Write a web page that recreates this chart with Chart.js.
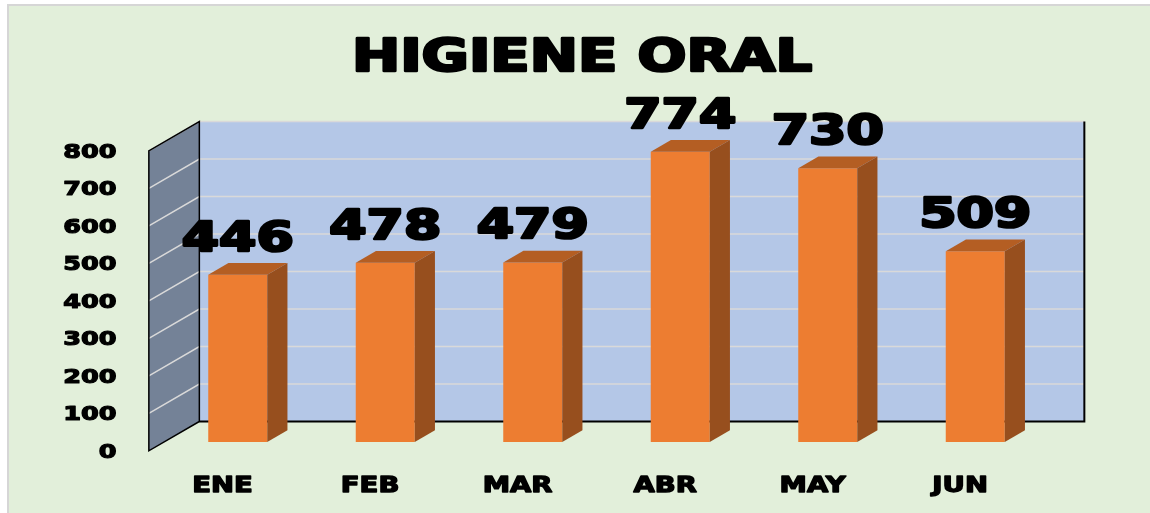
<!DOCTYPE html>
<html>
<head>
<meta charset="utf-8">
<title>Higiene oral</title>
<script src="https://cdn.jsdelivr.net/npm/chart.js@4.4.1/dist/chart.umd.min.js"></script>
<style>
  html, body { margin: 0; padding: 0; background: #fff; }
  #wrap { width: 1150px; height: 513px; position: relative; }
</style>
</head>
<body>
<div id="wrap"><canvas id="grafico"></canvas></div>
<script>
// Datos
const TITULO = 'HIGIENE ORAL';
const meses = ['ENE', 'FEB', 'MAR', 'ABR', 'MAY', 'JUN'];
const atenciones = [446, 478, 479, 774, 730, 509];
const yTicks = [0, 100, 200, 300, 400, 500, 600, 700, 800];

// Efecto 3D: profundidad del piso (frente -> fondo) y posicion de las barras
const PROF = { x: 50.5, y: -29.3 };
const BARRA_FRENTE = 0.3;
const BARRA_FONDO = 0.7;
const ESTIRAR = 1.31; // texto ancho tipo Arial Black
const FUENTE = '"DejaVu Sans", "Liberation Sans", sans-serif';

// punto del plano de las barras llevado a otra profundidad (0 = frente, 1 = fondo)
function pt(px, py, d) {
    return [px + (d - BARRA_FRENTE) * PROF.x, py + (d - BARRA_FRENTE) * PROF.y];
}

function poligono(ctx, pts) {
    ctx.beginPath();
    ctx.moveTo(pts[0][0], pts[0][1]);
    for (let i = 1; i < pts.length; i++) ctx.lineTo(pts[i][0], pts[i][1]);
    ctx.closePath();
}

// texto negro muy grueso: relleno + trazo del mismo color
function textoAncho(ctx, txt, x, y, size, align, grosor) {
    ctx.save();
    ctx.font = 'bold ' + size + 'px ' + FUENTE;
    ctx.fillStyle = '#000';
    ctx.strokeStyle = '#000';
    ctx.lineJoin = 'round';
    ctx.lineWidth = grosor;
    ctx.textAlign = align;
    ctx.textBaseline = 'alphabetic';
    ctx.translate(x, y);
    ctx.scale(ESTIRAR, 1);
    ctx.fillText(txt, 0, 0);
    ctx.strokeText(txt, 0, 0);
    ctx.restore();
}

const fondoPlugin = {
    id: 'fondo',
    beforeDraw(chart) {
        const ctx = chart.ctx;
        ctx.save();
        ctx.fillStyle = '#ffffff';
        ctx.fillRect(0, 0, chart.width, chart.height);
        ctx.fillStyle = '#D6D6D6';
        ctx.fillRect(7, 4, chart.width - 7, chart.height - 4);
        ctx.fillStyle = '#E2EFDA';
        ctx.fillRect(9, 6, chart.width - 9, chart.height - 6);
        ctx.restore();
    }
};

const paredesPlugin = {
    id: 'paredes',
    beforeDatasetsDraw(chart) {
        const ctx = chart.ctx;
        const a = chart.chartArea;
        const ys = chart.scales.y;
        const yTop = ys.getPixelForValue(yTicks[yTicks.length - 1]);
        const y0 = ys.getPixelForValue(0);
        ctx.save();

        // pared del fondo
        const bTL = pt(a.left, yTop, 1), bBR = pt(a.right, y0, 1);
        ctx.fillStyle = '#B4C7E7';
        ctx.fillRect(bTL[0], bTL[1], bBR[0] - bTL[0], bBR[1] - bTL[1]);

        // pared lateral
        const lateral = [pt(a.left, yTop, 0), pt(a.left, yTop, 1), pt(a.left, y0, 1), pt(a.left, y0, 0)];
        ctx.fillStyle = '#748297';
        poligono(ctx, lateral);
        ctx.fill();

        // lineas de division
        ctx.strokeStyle = '#D9D9D9';
        ctx.lineWidth = 1.5;
        yTicks.forEach(v => {
            if (v === 0) return;
            const py = ys.getPixelForValue(v);
            const f = pt(a.left, py, 0), b = pt(a.left, py, 1), r = pt(a.right, py, 1);
            ctx.beginPath();
            ctx.moveTo(f[0], f[1]);
            ctx.lineTo(b[0], b[1]);
            ctx.lineTo(r[0], r[1]);
            ctx.stroke();
        });

        // bordes
        ctx.strokeStyle = '#000';
        ctx.lineWidth = 1.5;
        poligono(ctx, lateral);
        ctx.stroke();
        const bTR = pt(a.right, yTop, 1), bBL = pt(a.left, y0, 1);
        ctx.lineWidth = 2;
        ctx.beginPath();
        ctx.moveTo(bBL[0], bBL[1]);
        ctx.lineTo(bBR[0], bBR[1]);
        ctx.lineTo(bTR[0], bTR[1]);
        ctx.stroke();
        ctx.restore();
    },
    afterDatasetsDraw(chart) {
        const ctx = chart.ctx;
        const dx = (BARRA_FONDO - BARRA_FRENTE) * PROF.x;
        const dy = (BARRA_FONDO - BARRA_FRENTE) * PROF.y;
        ctx.save();
        chart.getDatasetMeta(0).data.forEach(bar => {
            const p = bar.getProps(['x', 'y', 'base', 'width'], true);
            const l = p.x - p.width / 2, r = p.x + p.width / 2;
            ctx.fillStyle = '#B45E23';
            poligono(ctx, [[l, p.y], [r, p.y], [r + dx, p.y + dy], [l + dx, p.y + dy]]);
            ctx.fill();
            ctx.fillStyle = '#974F1E';
            poligono(ctx, [[r, p.y], [r + dx, p.y + dy], [r + dx, p.base + dy], [r, p.base]]);
            ctx.fill();
        });
        ctx.restore();
    }
};

const textosPlugin = {
    id: 'textos',
    afterDraw(chart) {
        const ctx = chart.ctx;
        const xs = chart.scales.x, ys = chart.scales.y;

        // titulo
        textoAncho(ctx, TITULO, 582, 71, 44, 'center', 2.6);

        // etiquetas de valor
        chart.getDatasetMeta(0).data.forEach((bar, i) => {
            const p = bar.getProps(['x', 'y'], true);
            textoAncho(ctx, String(atenciones[i]), p.x, p.y - 24, 41, 'center', 2.6);
        });

        // eje Y (plano frontal)
        const frenteY = -BARRA_FRENTE * PROF.y;
        yTicks.forEach(v => {
            const py = ys.getPixelForValue(v) + frenteY;
            textoAncho(ctx, String(v), 116.5, py + 7.2, 19.5, 'right', 1.2);
        });

        // eje X
        const frenteX = -BARRA_FRENTE * PROF.x;
        meses.forEach((m, i) => {
            textoAncho(ctx, m, xs.getPixelForValue(i) + frenteX, 491.5, 21, 'center', 1.3);
        });
    }
};

const ctx = document.getElementById('grafico').getContext('2d');
new Chart(ctx, {
    type: 'bar',
    data: {
        labels: meses,
        datasets: [{
            data: atenciones,
            backgroundColor: '#ED7D31',
            borderWidth: 0,
            barPercentage: 0.4,
            categoryPercentage: 1.0
        }]
    },
    options: {
        responsive: true,
        maintainAspectRatio: false,
        animation: false,
        layout: { padding: { left: 164, right: 101, top: 142, bottom: 71 } },
        plugins: {
            legend: { display: false },
            title: { display: false },
            tooltip: { enabled: false }
        },
        scales: {
            x: { display: false },
            y: { display: false, min: 0, max: 800, ticks: { stepSize: 100 } }
        }
    },
    plugins: [fondoPlugin, paredesPlugin, textosPlugin]
});
</script>
</body>
</html>
